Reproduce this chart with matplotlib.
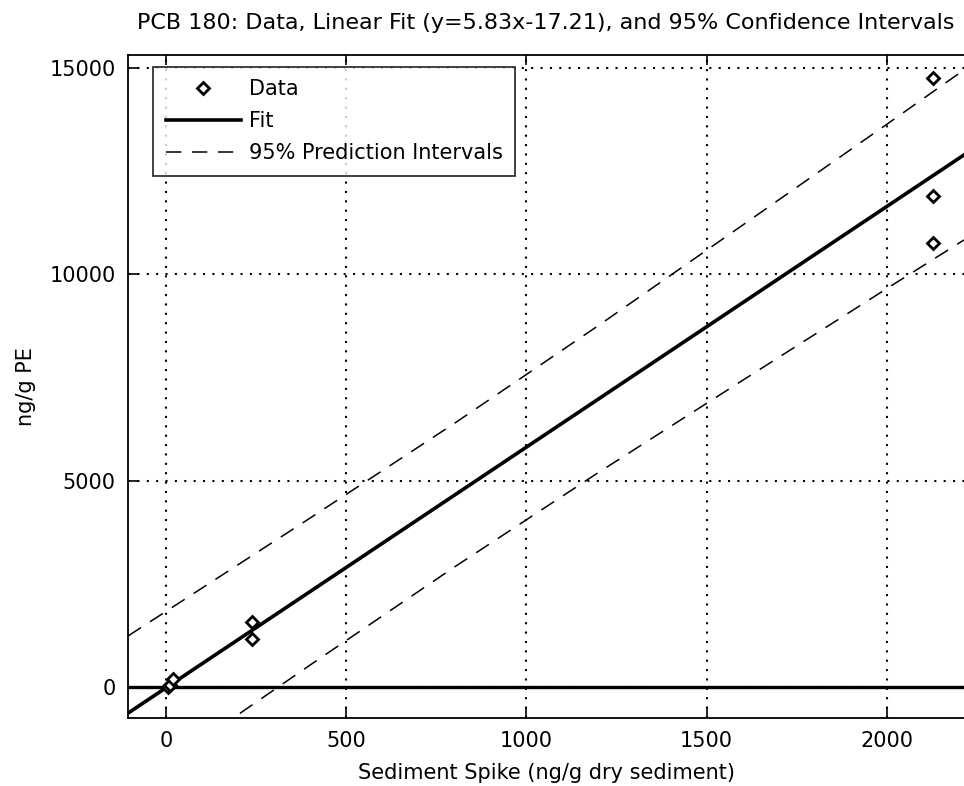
import numpy as np
import matplotlib.pyplot as plt

plt.rcParams['font.family'] = ['DejaVu Sans']

# data points
x_data = [5, 10, 18, 238, 238, 2128, 2128, 2128]
y_data = [0, 40, 200, 1575, 1163, 14760, 11900, 10760]

# fit line (y=5.83x-17.21) end points
x_fit = [-105, 2214]
y_fit = [-629, 12890]

# 95% prediction intervals
x_pi = [-105, 400, 800, 1200, 1600, 2000, 2214]
y_upper = [1240, 4095, 6387, 8759, 11191, 13633, 14950]
y_lower = [-2500, 535, 2907, 5199, 7431, 9653, 10830]

xticks = [0, 500, 1000, 1500, 2000]
yticks = [0, 5000, 10000, 15000]

fs = 15

fig = plt.figure(figsize=(9.64, 7.86), dpi=100)
ax = fig.add_axes([0.133, 0.0865, 0.867, 0.8435])

ax.axhline(0, color='black', lw=2.4, zorder=2)
ax.plot(x_data, y_data, 'D', color='black', mfc='white', mew=2.0, ms=6,
        label='Data', zorder=4)
ax.plot(x_fit, y_fit, '-', color='black', lw=2.6, label='Fit', zorder=3)
ax.plot(x_pi, y_upper, '--', color='black', lw=1.1, dashes=(10, 7),
        label='95% Prediction Intervals')
ax.plot(x_pi, y_lower, '--', color='black', lw=1.1, dashes=(10, 7))

ax.set_xlim(-105, 2214)
ax.set_ylim(-750, 15310)
ax.set_xticks(xticks)
ax.set_yticks(yticks)
ax.tick_params(direction='in', top=True, right=False, labelsize=fs,
               length=7, width=1.2, pad=9)
ax.spines['right'].set_visible(False)
for s in ['left', 'top', 'bottom']:
    ax.spines[s].set_linewidth(1.3)

ax.grid(True, color='black', linestyle=(0, (1, 3.5)), lw=1.5)
ax.set_axisbelow(True)

ax.set_title('PCB 180: Data, Linear Fit (y=5.83x-17.21), and 95% Confidence Intervals',
             fontsize=16, pad=19)
ax.set_xlabel('Sediment Spike (ng/g dry sediment)', fontsize=fs, labelpad=9)
ax.set_ylabel('ng/g PE', fontsize=fs, labelpad=10)

leg = ax.legend(loc='upper left', bbox_to_anchor=(0.03, 0.982), fontsize=fs,
                frameon=True, fancybox=False, edgecolor='black',
                handlelength=3.6, borderpad=0.6, labelspacing=0.57,
                handletextpad=0.4, borderaxespad=0)
leg.get_frame().set_linewidth(1.3)

fig.savefig('out.png', dpi=100)
